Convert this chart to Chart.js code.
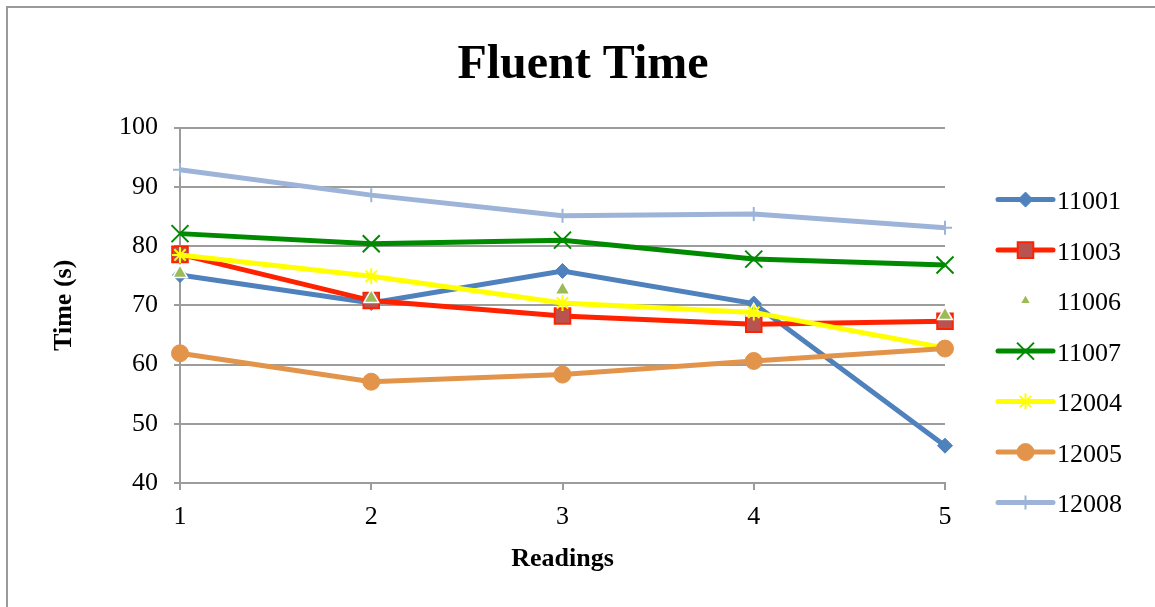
<!DOCTYPE html>
<html>
<head>
<meta charset="utf-8">
<title>Fluent Time</title>
<script src="https://cdn.jsdelivr.net/npm/chart.js"></script>
<style>
  html, body { margin: 0; padding: 0; background: #ffffff; }
  canvas { display: block; }
</style>
</head>
<body>
<canvas id="chart" width="1155" height="607"></canvas>
<script>
// Reading numbers on the x axis
const readings = ['1', '2', '3', '4', '5'];

// Fluent time (s) per participant
const s11001 = [75.1, 70.4, 75.8, 70.3, 46.3];
const s11003 = [78.6, 70.8, 68.2, 66.8, 67.3];
const s11006 = [75.4, 71.2, 72.6, 68.9, 68.3];
const s11007 = [82.1, 80.4, 81.0, 77.8, 76.8];
const s12004 = [78.5, 74.9, 70.4, 68.8, 62.8];
const s12005 = [61.9, 57.1, 58.3, 60.6, 62.7];
const s12008 = [92.9, 88.6, 85.1, 85.4, 83.1];

const seriesNames = ['11001', '11003', '11006', '11007', '12004', '12005', '12008'];
const seriesValues = [s11001, s11003, s11006, s11007, s12004, s12005, s12008];

// y axis range and step
const yMin = 40, yMax = 100, yStep = 10;

const serif = "'Liberation Serif', 'Times New Roman', Times, serif";
const gridGray = '#9c9c9c';

const styles = [
  { line: '#4F81BD', fill: '#4F81BD', border: '#4F81BD', point: 'rectRot',  radius: 7.5, bw: 1,   showLine: true },
  { line: '#FF2200', fill: '#B9534F', border: '#FF2200', point: 'rect',     radius: 11,  bw: 2,   showLine: true },
  { line: '#9BBB59', fill: '#9BBB59', border: '#FFFFFF', point: 'triangle', radius: 8.5, bw: 1.5, showLine: false },
  { line: '#008A00', fill: '#008A00', border: '#008A00', point: 'crossRot', radius: 12,  bw: 2,   showLine: true },
  { line: '#FFFF00', fill: '#FFFF00', border: '#FFFF00', point: 'star',     radius: 8,   bw: 2,   showLine: true },
  { line: '#E3944B', fill: '#E3944B', border: '#E3944B', point: 'circle',   radius: 8.5, bw: 1,   showLine: true },
  { line: '#9DB4D8', fill: '#9DB4D8', border: '#9DB4D8', point: 'cross',    radius: 7,   bw: 2,   showLine: true }
];

const datasets = seriesNames.map((name, i) => ({
  label: name,
  data: seriesValues[i],
  borderColor: styles[i].line,
  backgroundColor: styles[i].fill,
  borderWidth: 5,
  showLine: styles[i].showLine,
  tension: 0,
  pointStyle: styles[i].point,
  pointRadius: styles[i].radius,
  pointHoverRadius: styles[i].radius,
  pointBackgroundColor: styles[i].fill,
  pointBorderColor: styles[i].border,
  pointBorderWidth: styles[i].bw,
  // later series are painted over earlier ones
  order: -i
}));

// Outer frame of the chart
const framePlugin = {
  id: 'frame',
  beforeDraw(chart) {
    const ctx = chart.ctx;
    ctx.save();
    ctx.fillStyle = '#ffffff';
    ctx.fillRect(0, 0, chart.width, chart.height);
    ctx.strokeStyle = '#9a9a9a';
    ctx.lineWidth = 2;
    ctx.strokeRect(7, 7, chart.width + 20, chart.height + 20);
    ctx.restore();
  }
};

// Legend on the right: line sample with the series marker, then the name
const sideLegend = {
  id: 'sideLegend',
  afterDraw(chart) {
    const ctx = chart.ctx;
    const area = chart.chartArea;
    const x0 = area.right + 53, x1 = area.right + 108;
    const xm = (x0 + x1) / 2;
    ctx.save();
    chart.data.datasets.forEach((ds, i) => {
      const y = area.top + 72 + i * 50.5;
      if (ds.showLine !== false) {
        ctx.beginPath();
        ctx.lineCap = 'round';
        ctx.strokeStyle = ds.borderColor;
        ctx.lineWidth = ds.borderWidth;
        ctx.moveTo(x0, y);
        ctx.lineTo(x1, y);
        ctx.stroke();
      }
      if (Chart.helpers && Chart.helpers.drawPoint) {
        ctx.lineCap = 'butt';
        ctx.fillStyle = ds.pointBackgroundColor;
        ctx.strokeStyle = ds.pointBorderColor;
        ctx.lineWidth = ds.pointBorderWidth;
        const r = ds.showLine === false ? ds.pointRadius * 0.75 : ds.pointRadius;
        Chart.helpers.drawPoint(ctx, {
          pointStyle: ds.pointStyle,
          radius: r,
          borderWidth: ds.pointBorderWidth,
          rotation: 0
        }, xm, y);
      }
      ctx.fillStyle = '#000000';
      ctx.font = '26px ' + serif;
      ctx.textAlign = 'left';
      ctx.textBaseline = 'middle';
      ctx.fillText(ds.label, x1 + 4, y + 3);
    });
    ctx.restore();
  }
};

Chart.defaults.font.family = serif;
Chart.defaults.font.size = 26;
Chart.defaults.color = '#000000';

new Chart(document.getElementById('chart'), {
  type: 'line',
  data: { labels: readings, datasets: datasets },
  options: {
    responsive: false,
    animation: false,
    devicePixelRatio: 1,
    layout: { padding: { left: 11, top: 0, right: 0, bottom: 0 } },
    plugins: {
      legend: { display: false },
      tooltip: { enabled: false },
      title: {
        display: true,
        text: 'Fluent Time',
        color: '#000000',
        font: { family: serif, size: 48, weight: 'bold', lineHeight: 1.2 },
        padding: { top: 37, bottom: 33 }
      }
    },
    scales: {
      x: {
        type: 'category',
        offset: false,
        grid: { display: true, drawOnChartArea: false, drawTicks: true, tickLength: 7, color: gridGray, lineWidth: 2 },
        border: { display: true, color: gridGray, width: 2 },
        ticks: { autoSkip: false, maxRotation: 0, padding: 12, color: '#000000', font: { size: 26 } },
        title: {
          display: true,
          text: 'Readings',
          color: '#000000',
          font: { family: serif, size: 26, weight: 'bold', lineHeight: 1.2 },
          padding: { top: 0, bottom: 32 }
        },
        afterFit(scale) { scale.height = 124; }
      },
      y: {
        min: yMin,
        max: yMax,
        grid: { color: gridGray, lineWidth: 2, drawTicks: true, tickLength: 6 },
        border: { display: true, color: gridGray, width: 2 },
        ticks: { stepSize: yStep, padding: 16, color: '#000000', font: { size: 26 } },
        title: {
          display: true,
          text: 'Time (s)',
          color: '#000000',
          font: { family: serif, size: 26, weight: 'bold', lineHeight: 1.2 },
          padding: { top: 38, bottom: 0 }
        },
        afterFit(scale) { scale.width = 169; }
      },
      // empty band on the right that holds the legend
      legendBand: {
        type: 'linear',
        position: 'right',
        display: true,
        grid: { display: false, drawTicks: false },
        border: { display: false },
        ticks: { display: false },
        afterFit(scale) { scale.width = 210; }
      }
    }
  },
  plugins: [framePlugin, sideLegend]
});
</script>
</body>
</html>
